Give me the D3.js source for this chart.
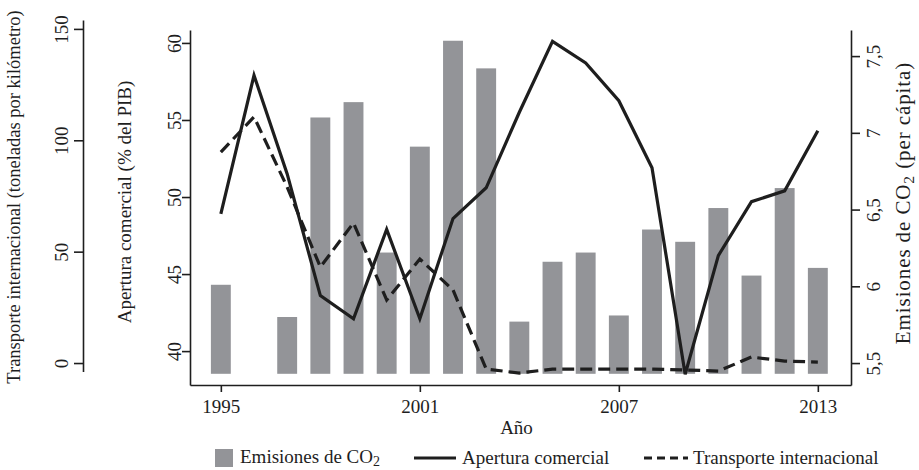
<!DOCTYPE html>
<html><head><meta charset="utf-8">
<script src="https://cdn.jsdelivr.net/npm/d3@7"></script>
<style>
body{margin:0;background:#fff}
text{font-family:"Liberation Serif","Times New Roman",serif;fill:#1e1e1e}
</style>
</head><body>
<svg id="c" width="919" height="470"></svg>
<script>
const years = [1995,1996,1997,1998,1999,2000,2001,2002,2003,2004,2005,2006,2007,2008,2009,2010,2011,2012,2013];
const co2 = [6.01,null,5.80,7.10,7.20,6.22,6.91,7.60,7.42,5.77,6.16,6.22,5.81,6.37,6.29,6.51,6.07,6.64,6.12];
const apertura = [48.9,57.9,51.5,43.6,42.1,47.9,42.1,48.6,50.6,55.5,60.1,58.7,56.25,51.9,38.5,46.2,49.7,50.4,54.3];
const transporte = [94.7,110.5,79,43.1,62.9,28.3,46.7,32.8,-2.7,-4.5,-2.7,-2.7,-2.7,-2.7,-3.1,-3.6,2.7,0.9,0.4];
const xTicks = [1995,2001,2007,2013];
const aperturaTicks = [40,45,50,55,60];
const transporteTicks = [0,50,100,150];
const co2Ticks = [5.5,6,6.5,7,7.5];
const co2Base = 5.43;

const svg = d3.select("#c");
const L = 190, R = 851, T = 30, B = 385;
const FS = 19;
const ink = "#1e1e1e";

const x = d3.scaleLinear().domain([1994.07, 2014]).range([L, R]);
const yA = d3.scaleLinear().domain([37.8, 60.84]).range([B, T]);
const yC = d3.scaleLinear().domain([5.357, 7.67]).range([B, T]);
const yT = d3.scaleLinear().domain([-3.8, 154]).range([371.5, 20]);

// bars
const bw = x(1995.6) - x(1995);
svg.append("g").selectAll("rect")
  .data(years.map((yr,i)=>({yr, v: co2[i]})).filter(d=>d.v!=null))
  .join("rect")
  .attr("x", d=>x(d.yr)-bw/2)
  .attr("width", bw)
  .attr("y", d=>yC(d.v))
  .attr("height", d=>yC(co2Base)-yC(d.v))
  .attr("fill", "#939498");

// lines
const lineA = d3.line().x((d,i)=>x(years[i])).y(d=>yA(d));
const lineT = d3.line().x((d,i)=>x(years[i])).y(d=>yT(d));
svg.append("path").attr("d", lineT(transporte)).attr("fill","none")
  .attr("stroke", ink).attr("stroke-width", 3.2).attr("stroke-dasharray","12,6");
svg.append("path").attr("d", lineA(apertura)).attr("fill","none")
  .attr("stroke", ink).attr("stroke-width", 3.2).attr("stroke-linejoin","miter");

function styleAxis(g){
  g.selectAll("path.domain").attr("stroke", ink).attr("stroke-width", 1.6);
  g.selectAll(".tick line").attr("stroke", ink).attr("stroke-width", 1.6);
  g.selectAll("text").style("font-size", FS+"px").attr("fill", ink);
}

// x axis
const gx = svg.append("g").attr("transform", `translate(0,${B})`)
  .call(d3.axisBottom(x).tickValues(xTicks).tickFormat(d3.format("d")).tickSize(7).tickSizeOuter(0).tickPadding(8));
styleAxis(gx);
gx.selectAll("text").attr("dy","0.71em");

// Apertura axis (inner left)
const ga = svg.append("g").attr("transform", `translate(${L},0)`)
  .call(d3.axisLeft(yA).tickValues(aperturaTicks).tickSize(8).tickSizeOuter(0));
styleAxis(ga);
ga.selectAll(".tick text").attr("x",null).attr("dy",null)
  .attr("text-anchor","middle").attr("transform","translate(-9,0) rotate(-90)");

// Transporte axis (outer left)
const gt = svg.append("g").attr("transform", `translate(83,0)`)
  .call(d3.axisLeft(yT).tickValues(transporteTicks).tickSize(9).tickSizeOuter(0));
styleAxis(gt);
gt.selectAll(".tick text").attr("x",null).attr("dy",null)
  .attr("text-anchor","middle").attr("transform","translate(-15,0) rotate(-90)");

// CO2 axis (right)
const gc = svg.append("g").attr("transform", `translate(${R},0)`)
  .call(d3.axisRight(yC).tickValues(co2Ticks).tickFormat(d=>String(d).replace(".",",")).tickSize(9).tickSizeOuter(0));
styleAxis(gc);
gc.selectAll(".tick text").attr("x",null).attr("dy",null)
  .attr("text-anchor","middle").attr("transform","translate(29,0) rotate(-90)");

// titles
svg.append("text").attr("transform","translate(20,197) rotate(-90)")
  .attr("text-anchor","middle").style("font-size","18.5px")
  .text("Transporte internacional (toneladas por kilómetro)");
svg.append("text").attr("transform","translate(131,202) rotate(-90)")
  .attr("text-anchor","middle").style("font-size",FS+"px")
  .text("Apertura comercial (% del PIB)");
const rt = svg.append("text").attr("transform","translate(910,203) rotate(-90)")
  .attr("text-anchor","middle").style("font-size","21px").style("letter-spacing","0.9px");
rt.append("tspan").text("Emisiones de CO");
rt.append("tspan").text("2").attr("dy", 4).style("font-size","15.5px");
rt.append("tspan").text(" (per cápita)").attr("dy", -4);

svg.append("text").attr("x", (L+R)/2 - 4).attr("y", 434).attr("text-anchor","middle")
  .style("font-size",FS+"px").text("Año");

// legend
const lg = svg.append("g");
lg.append("rect").attr("x",215).attr("y",449).attr("width",18).attr("height",18).attr("fill","#939498");
const t1 = lg.append("text").attr("x",240).attr("y",463).style("font-size",FS+"px");
t1.append("tspan").text("Emisiones de CO");
t1.append("tspan").text("2").attr("dy",3).style("font-size","14px");
lg.append("line").attr("x1",414).attr("x2",456).attr("y1",458).attr("y2",458)
  .attr("stroke",ink).attr("stroke-width",3.2);
lg.append("text").attr("x",462).attr("y",464).style("font-size",FS+"px").text("Apertura comercial");
lg.append("line").attr("x1",644).attr("x2",688).attr("y1",458).attr("y2",458)
  .attr("stroke",ink).attr("stroke-width",3.2).attr("stroke-dasharray","8,5");
lg.append("text").attr("x",693).attr("y",464).style("font-size",FS+"px").text("Transporte internacional");
</script>
</body></html>
